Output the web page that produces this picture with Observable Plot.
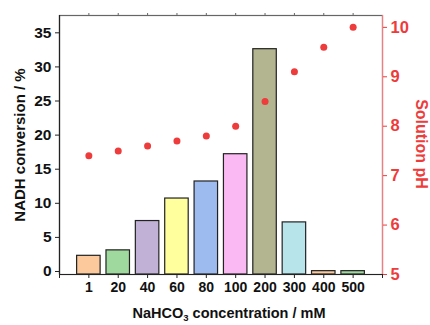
<!DOCTYPE html>
<html>
<head>
<meta charset="utf-8">
<script src="https://cdn.jsdelivr.net/npm/d3@7"></script>
<script src="https://cdn.jsdelivr.net/npm/@observablehq/plot@0.6"></script>
<style>
  html, body { margin: 0; padding: 0; background: #fff; }
  #chart svg { display: block; font-family: "Liberation Sans", Arial, sans-serif; }
</style>
</head>
<body>
<div id="chart"></div>
<script>
// ---- data ----
const categories = ["1", "20", "40", "60", "80", "100", "200", "300", "400", "500"];
const conversion = [2.3, 3.1, 7.4, 10.7, 13.2, 17.2, 32.6, 7.2, 0.05, 0.05];
const solutionPH = [7.4, 7.5, 7.6, 7.7, 7.8, 8.0, 8.5, 9.1, 9.6, 10.0];
const barColors = ["#FBC99B", "#A0D99E", "#C1B1D7", "#FFFF9E", "#9EBBF0", "#FBB9F3", "#B2B590", "#B7E3EA", "#FBC99B", "#A0D99E"];
const leftTicks = [0, 5, 10, 15, 20, 25, 30, 35];
const rightTicks = [5, 6, 7, 8, 9, 10];

// ---- scales ----
const Y0 = -0.44, Y1 = 37.54;   // left axis domain
const P0 = 5, P1 = 10.24;       // right axis domain (pH)
const toY = p => Y0 + (p - P0) / (P1 - P0) * (Y1 - Y0);
const fromY = y => P0 + (y - Y0) / (Y1 - Y0) * (P1 - P0);

const rows = categories.map((c, i) => ({
  cat: c, pos: i + 1, conv: conversion[i], pH: solutionPH[i], color: barColors[i]
}));
const positions = rows.map(d => d.pos);
const red = "#EE3B3B";

const chart = Plot.plot({
  width: 430,
  height: 325,
  marginLeft: 59,
  marginRight: 48,
  marginTop: 15,
  marginBottom: 51,
  style: { fontFamily: "'Liberation Sans', Arial, sans-serif", background: "#fff" },
  x: { type: "linear", domain: [0, 11], axis: null, label: null },
  y: { domain: [Y0, Y1], axis: null, label: null },
  color: { type: "identity" },
  marks: [
    Plot.rect(rows, {
      x1: d => d.pos - 0.4, x2: d => d.pos + 0.4,
      y1: Y0, y2: "conv",
      fill: "color", stroke: "#222", strokeWidth: 1.2
    }),
    Plot.frame({ stroke: "#666", strokeWidth: 1.2 }),
    // top ticks
    Plot.axisX(positions, { anchor: "top", label: null, tickSize: 3, tickFormat: () => "", stroke: "#666" }),
    // bottom axis
    Plot.ruleY([Y0], { stroke: "#222", strokeWidth: 1.2 }),
    Plot.axisX([0, 11], { anchor: "bottom", label: null, tickSize: 4, tickFormat: () => "", stroke: "#222" }),
    Plot.axisX(positions, {
      anchor: "bottom", label: null, tickSize: 4, tickPadding: 4, stroke: "#222",
      tickFormat: d => categories[d - 1], fontSize: 14, fontWeight: "bold", fill: "#111"
    }),
    // left axis
    Plot.ruleX([0], { stroke: "#222", strokeWidth: 1.2 }),
    Plot.axisY(leftTicks, {
      anchor: "left", label: null, tickSize: 4, tickPadding: 4, stroke: "#222",
      fontSize: 15.5, fontWeight: "bold", fill: "#111"
    }),
    // right axis (pH)
    Plot.ruleX([11], { stroke: "#F47C7C", strokeWidth: 1.2 }),
    Plot.axisY(rightTicks.map(toY), {
      anchor: "right", label: null, tickSize: 4, tickPadding: 4, stroke: red,
      tickFormat: d => String(Math.round(fromY(d))),
      fontSize: 16.5, fontWeight: "bold", fill: red
    }),
    // pH points
    Plot.dot(rows, { x: "pos", y: d => toY(d.pH), r: 3.5, fill: red, stroke: "none" })
  ]
});

const svg = d3.select(chart);
// y axis title (left)
svg.append("text")
  .attr("transform", "translate(25,145) rotate(-90)")
  .attr("text-anchor", "middle")
  .attr("font-size", 15).attr("font-weight", "bold").attr("fill", "#111")
  .text("NADH conversion / %");
// y axis title (right)
svg.append("text")
  .attr("transform", "translate(416,144) rotate(90)")
  .attr("text-anchor", "middle")
  .attr("font-size", 16).attr("font-weight", "bold").attr("fill", red)
  .text("Solution pH");
// x axis title with subscript
const xt = svg.append("text")
  .attr("x", 229).attr("y", 318)
  .attr("text-anchor", "middle")
  .attr("font-size", 14.5).attr("font-weight", "bold").attr("fill", "#111");
xt.append("tspan").text("NaHCO");
xt.append("tspan").attr("font-size", 9.5).attr("dy", 3).text("3");
xt.append("tspan").attr("dy", -3).text(" concentration / mM");

document.getElementById("chart").appendChild(chart);
</script>
</body>
</html>
